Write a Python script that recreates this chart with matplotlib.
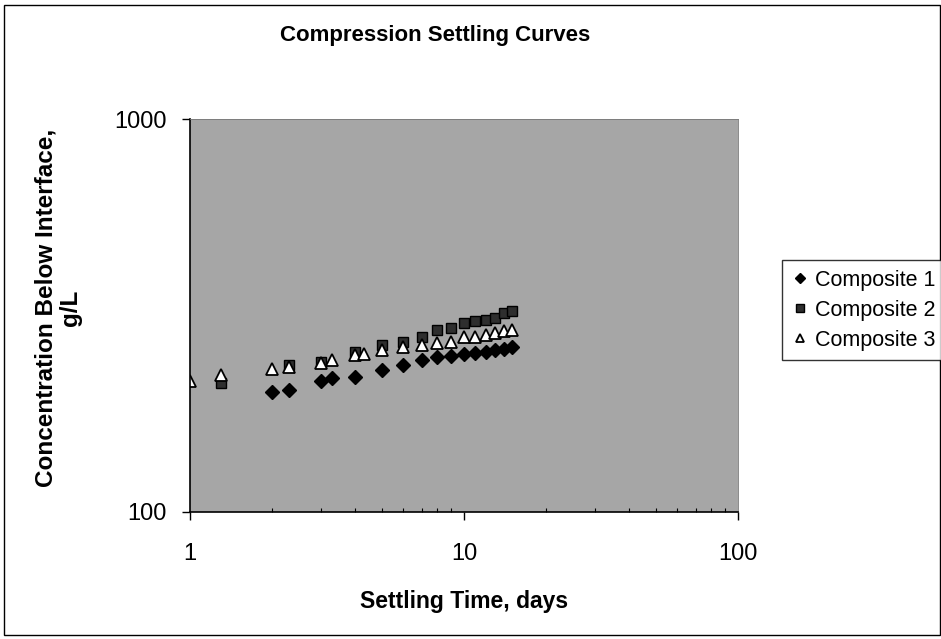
import matplotlib.pyplot as plt
from matplotlib.patches import Rectangle
from matplotlib.ticker import LogLocator, NullFormatter

plt.rcParams['font.family'] = ['Liberation Sans', 'DejaVu Sans']

# Composite 1 (diamonds)
days_1 = [2, 2.3, 3, 3.3, 4, 5, 6, 7, 8, 9, 10, 11, 12, 13, 14, 15]
conc_1 = [202, 204, 215, 219, 221, 230, 237, 244, 248, 250, 252, 254, 256, 258, 260, 263]

# Composite 2 (squares)
days_2 = [1.3, 2.3, 3, 4, 5, 6, 7, 8, 9, 10, 11, 12, 13, 14, 15]
conc_2 = [213, 236, 241, 255, 266, 271, 279, 290, 294, 303, 306, 308, 311, 320, 325]

# Composite 3 (triangles)
days_3 = [1, 1.3, 2, 2.3, 3, 3.3, 4, 4.3, 5, 6, 7, 8, 9, 10, 11, 12, 13, 14, 15]
conc_3 = [215, 223, 231, 234, 239, 243, 251, 253, 258, 263, 266, 269, 271, 278, 279, 282, 285, 288, 290]

fig = plt.figure(figsize=(9.41, 6.39), dpi=100)
ax = fig.add_axes([190 / 941, 1 - 512 / 639, 548 / 941, 393 / 639])
ax.set_facecolor('#a6a6a6')

ax.plot(days_1, conc_1, linestyle='none', marker='D', markersize=7,
        color='black', label='Composite 1')
ax.plot(days_2, conc_2, linestyle='none', marker='s', markersize=7,
        markerfacecolor='#2e2e2e', markeredgecolor='black', label='Composite 2')
ax.plot(days_3, conc_3, linestyle='none', marker='^', markersize=8.5,
        markerfacecolor='white', markeredgecolor='black', markeredgewidth=1.3,
        label='Composite 3')

ax.set_xscale('log')
ax.set_yscale('log')
ax.set_xlim(1, 100)
ax.set_ylim(100, 1000)
ax.set_xticks([1, 10, 100])
ax.set_xticklabels(['1', '10', '100'])
ax.set_yticks([100, 1000])
ax.set_yticklabels(['100', '1000'])
ax.xaxis.set_minor_locator(LogLocator(base=10, subs=range(2, 10)))
ax.xaxis.set_minor_formatter(NullFormatter())
ax.yaxis.set_minor_locator(LogLocator(base=10, subs=[]))
ax.tick_params(which='major', direction='out', length=6, width=1, labelsize=17)
ax.tick_params(which='minor', direction='in', length=3, width=0.8)
ax.tick_params(axis='x', which='major', pad=16)
ax.tick_params(axis='y', which='major', pad=11)

for side in ['left', 'bottom', 'right', 'top']:
    ax.spines[side].set_linewidth(1.2 if side in ('left', 'bottom') else 0.6)
ax.spines['right'].set_color('#777777')
ax.spines['top'].set_color('#777777')

fig.text(435 / 941, 1 - 36 / 639, 'Compression Settling Curves', ha='center', va='center',
         fontsize=16, fontweight='bold')
ax.set_xlabel('Settling Time, days', fontsize=16.5, fontweight='bold', labelpad=18)
ax.set_ylabel('Concentration Below Interface,\ng/L', fontsize=17.5, fontweight='bold',
              linespacing=1.1)
ax.yaxis.set_label_coords(-0.197, 0.52)

leg = fig.legend(loc='upper left', bbox_to_anchor=(782 / 941, 1 - 260 / 639),
                 frameon=True, fancybox=False, edgecolor='black', fontsize=15.5,
                 handlelength=0.8, handletextpad=0.3, borderpad=0.45, labelspacing=0.42,
                 markerscale=0.75, borderaxespad=0)
leg.get_frame().set_linewidth(1.0)

fig.patches.append(Rectangle((4 / 941, 4 / 639), 1 - 5 / 941, 1 - 9 / 639,
                             transform=fig.transFigure, fill=False,
                             edgecolor='black', linewidth=1.0))

fig.savefig('out.png', dpi=100)
